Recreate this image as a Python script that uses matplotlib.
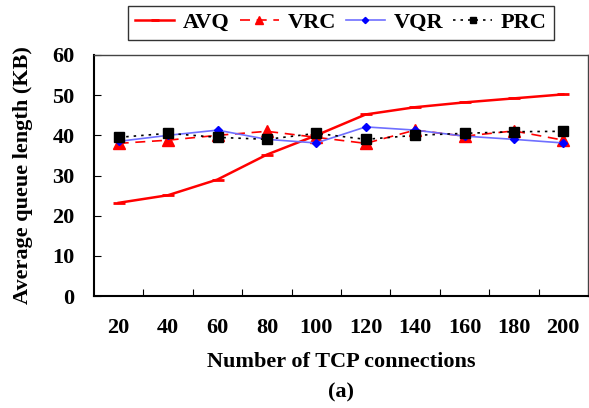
import matplotlib
matplotlib.use("Agg")
import matplotlib.pyplot as plt
import numpy as np

connections = ["20", "40", "60", "80", "100", "120", "140", "160", "180", "200"]
avq = [23.2, 25.1, 29.0, 35.2, 40.0, 45.2, 47.0, 48.2, 49.2, 50.2]
vrc = [38.0, 38.8, 40.0, 41.0, 39.5, 38.0, 41.3, 39.8, 41.1, 38.8]
vqr = [38.5, 40.0, 41.3, 39.0, 38.1, 42.1, 41.3, 39.8, 39.0, 38.1]
prc = [39.5, 40.5, 39.5, 39.0, 40.5, 39.0, 40.0, 40.5, 40.9, 41.0]
y_ticks = [0, 10, 20, 30, 40, 50, 60]

plt.rcParams["font.family"] = ["Liberation Serif", "DejaVu Serif"]
plt.rcParams["font.weight"] = "bold"

FS = 16

fig = plt.figure(figsize=(5.89, 4.08), dpi=100)
ax = fig.add_axes([94 / 589, 1 - 296 / 408, (588 - 94) / 589, (296 - 55) / 408])

x = np.arange(len(connections))
ax.plot(x, avq, color="#ff0000", lw=1.8, marker="_", ms=8, mew=2, label="AVQ")
ax.plot(x, vrc, color="#ff0000", lw=1.2, ls=(0, (6, 4)), marker="^", ms=8,
        label="VRC")
ax.plot(x, vqr, color="#6f6fff", lw=1.2, marker="D", ms=4.5, mfc="#0000ff",
        mec="#0000ff", label="VQR")
ax.plot(x, prc, color="black", lw=1.2, ls=(0, (1.5, 3)), marker="s", ms=6.5,
        label="PRC")

ax.set_xlim(-0.5, len(connections) - 0.5)
ax.set_ylim(0, 60)
ax.set_xticks(x)
ax.set_xticklabels(connections)
ax.set_xticks(np.arange(0.5, len(connections) - 1, 1.0), minor=True)
ax.tick_params(axis="x", which="major", length=0, pad=16, labelsize=FS)
ax.tick_params(axis="x", which="minor", direction="in", length=5, width=0.8)
ax.set_yticks(y_ticks)
ax.tick_params(axis="y", direction="in", length=5, width=0.8, pad=14,
               labelsize=FS)
for lbl in ax.get_xticklabels() + ax.get_yticklabels():
    lbl.set_fontweight("bold")

for side in ["left", "bottom"]:
    ax.spines[side].set_linewidth(1.5)
for side in ["top", "right"]:
    ax.spines[side].set_linewidth(1.0)
    ax.spines[side].set_color("#444444")

ax.set_xlabel("Number of TCP connections", fontsize=FS, fontweight="bold",
              labelpad=10)
ax.set_ylabel("Average queue length (KB)", fontsize=FS, fontweight="bold",
              labelpad=14)
fig.text(341 / 589, 1 - 392 / 408, "(a)", ha="center",
         va="center", fontsize=FS, fontweight="bold")

leg = fig.legend(loc="center", bbox_to_anchor=(341 / 589, 1 - 23 / 408),
                 ncol=4, frameon=True, fancybox=False, edgecolor="black",
                 prop={"size": FS, "weight": "bold"}, handlelength=1.75,
                 columnspacing=0.45, handletextpad=0.4, borderpad=0.3,
                 borderaxespad=0, markerscale=0.7)
leg.get_frame().set_linewidth(1.0)

fig.savefig("out.png", dpi=100)
